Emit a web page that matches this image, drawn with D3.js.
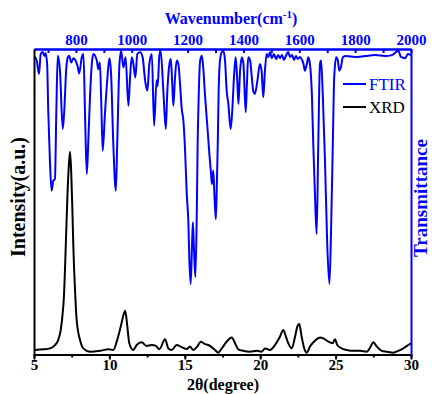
<!DOCTYPE html>
<html><head><meta charset="utf-8">
<script src="https://cdn.jsdelivr.net/npm/d3@7"></script>
<style>
body{margin:0;background:#fff;}
svg{display:block;}
text{font-family:"Liberation Serif","Times New Roman",serif;}
</style></head>
<body><svg id="c" width="432" height="394"></svg>
<script>
// FTIR: wavenumber (cm-1) and transmittance (relative %)
const ftirWavenumber = [650,654,660,668,674,681,687,691,697,701,707,713,719,725,730,735,743,753,759,765,771,776,783,791,800,807,812,821,827,833,839,845,851,857,862,875,880,886,891,896,904,913,920,926,934,943,948,956,962,970,978,988,994,1000,1006,1013,1020,1030,1039,1048,1056,1063,1072,1080,1089,1093,1099,1104,1113,1122,1127,1135,1140,1145,1149,1155,1161,1167,1173,1179,1185,1191,1197,1203,1206,1211,1216,1219,1223,1228,1233,1236,1240,1245,1251,1256,1262,1271,1278,1284,1287,1292,1296,1301,1304,1308,1311,1316,1322,1328,1334,1340,1346,1354,1360,1366,1372,1378,1382,1388,1394,1400,1408,1412,1417,1424,1430,1435,1441,1450,1459,1465,1471,1477,1483,1489,1495,1502,1509,1517,1524,1531,1538,1545,1552,1560,1567,1574,1581,1588,1595,1603,1610,1615,1620,1627,1632,1638,1645,1650,1656,1662,1668,1674,1678,1684,1692,1700,1708,1714,1720,1725,1732,1738,1743,1749,1756,1767,1800,1835,1871,1907,1932,1955,1964,1979,1989,2000];
const ftirTransmittance = [97.4,97.3,96.1,91.8,98.4,99.0,97.7,98.7,95.1,79.8,63.4,53.6,56.9,57.4,79.8,97.8,92.9,73.8,80.9,92.9,97.3,97.8,95.6,97.0,96.0,94.0,92.0,97.3,98.4,77.6,59.1,71.1,85.3,95.1,98.4,96.2,93.4,95.6,82.0,66.7,78.7,90.7,97.0,91.8,68.9,53.6,68.9,95.1,99.4,94.0,97.3,81.4,90.7,97.3,95.1,90.7,98.4,98.9,97.3,89.6,86.3,95.1,98.4,74.9,89.8,87.9,98.0,99.0,86.6,73.8,85.3,95.1,96.7,88.5,81.4,90.7,96.2,95.1,88.5,80.4,76.5,66.7,52.5,42.7,31.9,23.1,36.2,43.3,34.0,25.3,47.1,68.9,85.3,96.2,97.8,94.0,85.3,74.4,65.6,59.1,55.8,60.2,52.5,44.3,52.5,68.9,85.3,96.2,98.9,99.4,96.2,86.3,82.0,73.8,79.8,90.7,97.3,89.6,82.0,92.9,97.3,95.1,79.3,87.6,97.3,96.2,90.7,86.3,85.3,89.6,95.1,92.9,84.2,92.9,98.4,97.3,98.9,97.0,98.4,96.7,98.0,97.0,98.0,96.4,97.7,99.0,97.4,98.0,96.4,97.7,96.7,97.4,96.4,95.1,92.9,95.1,97.3,95.1,85.3,68.9,52.5,39.4,68.9,95.1,96.2,85.3,63.4,36.2,23.1,41.7,68.9,90.7,97.3,96.2,92.9,94.0,97.3,97.7,97.4,97.7,98.0,97.7,98.0,99.4,97.4,97.0,98.4,98.0];

// XRD: 2-theta (degree) and intensity (a.u.)
const xrdTwoTheta = [5.07,5.62,6.06,6.39,6.61,6.77,6.88,6.99,7.12,7.23,7.32,7.39,7.47,7.54,7.61,7.72,7.83,8.05,8.27,8.71,9.38,9.93,10.26,10.52,10.75,10.97,11.05,11.19,11.32,11.58,11.81,12.14,12.47,12.80,13.09,13.31,13.69,13.91,14.13,14.46,14.79,15.13,15.34,15.56,15.79,16.07,16.34,16.56,16.78,17.00,17.22,17.45,17.78,18.11,18.33,18.55,18.88,19.32,19.77,20.10,20.32,20.65,20.98,21.31,21.53,21.71,21.86,22.09,22.31,22.46,22.59,22.75,22.92,23.08,23.30,23.63,23.97,24.18,24.52,24.81,24.96,25.11,25.40,25.74,26.17,26.62,27.06,27.33,27.50,27.73,28.06,28.39,28.83,29.16,29.49,29.82,30.00];
const xrdIntensity = [1.5,1.7,2.0,3.1,4.8,8.0,12.4,19.5,37.5,53.8,62.6,66.4,59.3,48.4,35.3,21.1,11.3,4.8,2.0,0.9,1.2,1.7,1.5,4.8,9.1,13.5,14.3,9.1,3.7,1.5,3.1,4.0,2.8,3.1,2.8,1.7,5.0,2.0,1.5,3.1,2.4,1.8,2.6,1.5,2.4,4.2,3.4,3.1,2.4,1.5,0.6,2.0,4.2,5.6,3.7,1.7,1.2,0.9,1.2,0.9,2.0,1.5,3.1,5.8,8.0,5.8,3.7,2.0,5.8,9.1,10.0,5.8,2.0,0.6,2.6,4.5,5.6,5.3,4.2,3.7,5.0,3.1,2.0,1.5,1.2,1.2,0.9,2.6,4.0,2.6,1.2,0.9,0.6,1.2,2.0,3.1,3.7];

const bottomTicks = [5,10,15,20,25,30];
const bottomMinor = [5,7.5,10,12.5,15,17.5,20,22.5,25,27.5,30];
const topTicks = [800,1000,1200,1400,1600,1800,2000];
const topMinor = [700,800,900,1000,1100,1200,1300,1400,1500,1600,1700,1800,1900,2000];
const legendLabels = ["FTIR","XRD"];
const legendColors = ["#0000ff","#000000"];

const L=34, R=411, T=49, B=354.5;
const BLUE="#0000ff";
const SERIF="'Liberation Serif','Times New Roman',serif";
const svg=d3.select("#c");
const x=d3.scaleLinear().domain([5,30]).range([L,R]);
const xTop=d3.scaleLinear().domain([650,2000]).range([L,R]);
const yL=d3.scaleLinear().domain([0,100]).range([B,T]);
const yR=d3.scaleLinear().domain([0,100]).range([B,T]);

// FTIR line
const ftir=ftirWavenumber.map((w,i)=>[w,ftirTransmittance[i]]);
svg.append("path").datum(ftir)
  .attr("fill","none").attr("stroke",BLUE).attr("stroke-width",2).attr("stroke-linejoin","round")
  .attr("d",d3.line().x(d=>xTop(d[0])).y(d=>yR(d[1])).curve(d3.curveMonotoneX));
// XRD line
const xrd=xrdTwoTheta.map((t,i)=>[t,xrdIntensity[i]]);
svg.append("path").datum(xrd)
  .attr("fill","none").attr("stroke","#000").attr("stroke-width",2).attr("stroke-linejoin","round")
  .attr("d",d3.line().x(d=>x(d[0])).y(d=>yL(d[1])).curve(d3.curveMonotoneX));

// bottom axis
const gb=svg.append("g").attr("transform",`translate(0,${B})`);
gb.call(d3.axisBottom(x).tickValues(bottomMinor).tickSizeInner(3).tickSizeOuter(0).tickFormat(""));
const gb2=svg.append("g").attr("transform",`translate(0,${B})`);
gb2.call(d3.axisBottom(x).tickValues(bottomTicks).tickSizeInner(5).tickSizeOuter(0).tickPadding(0).tickFormat(d3.format("d")));
[gb,gb2].forEach(g=>{g.selectAll("path,line").attr("stroke","#000").attr("stroke-width",2);});
gb2.selectAll("text").attr("font-size",15).attr("font-weight","bold").attr("fill","#000").attr("font-family",SERIF);

// top axis
const gt=svg.append("g").attr("transform",`translate(0,${T})`);
gt.call(d3.axisTop(xTop).tickValues(topMinor).tickSizeInner(-4).tickSizeOuter(0).tickFormat(""));
const gt2=svg.append("g").attr("transform",`translate(0,${T})`);
gt2.call(d3.axisTop(xTop).tickValues(topTicks).tickSizeInner(0).tickSizeOuter(0).tickPadding(4).tickFormat(d3.format("d")));
[gt,gt2].forEach(g=>{g.selectAll("path,line").attr("stroke",BLUE).attr("stroke-width",2);});
gt2.selectAll("text").attr("font-size",15).attr("font-weight","bold").attr("fill",BLUE).attr("font-family",SERIF);

// left & right axes (lines only)
const gl=svg.append("g").attr("transform",`translate(${L},0)`);
gl.call(d3.axisLeft(yL).tickValues([]).tickSizeOuter(0));
gl.select("path").attr("stroke","#000").attr("stroke-width",2);
const gr=svg.append("g").attr("transform",`translate(${R},0)`);
gr.call(d3.axisRight(yR).tickValues([]).tickSizeOuter(0));
gr.select("path").attr("stroke",BLUE).attr("stroke-width",2);

// titles
svg.append("text").attr("x",223).attr("y",389.5).attr("text-anchor","middle").attr("font-family",SERIF)
  .attr("font-size",16).attr("font-weight","bold").attr("fill","#000").text("2θ(degree)");
const tt=svg.append("text").attr("x",231).attr("y",24).attr("text-anchor","middle").attr("font-family",SERIF)
  .attr("font-size",16).attr("font-weight","bold").attr("fill",BLUE);
tt.append("tspan").text("Wavenumber(cm");
tt.append("tspan").attr("dy",-6).attr("font-size",11).text("-1");
tt.append("tspan").attr("dy",6).text(")");
svg.append("text").attr("transform","translate(25,197) rotate(-90)").attr("text-anchor","middle").attr("font-family",SERIF)
  .attr("font-size",20).attr("font-weight","bold").attr("fill","#000").text("Intensity(a.u.)");
svg.append("text").attr("transform","translate(427,198) rotate(-90)").attr("text-anchor","middle").attr("font-family",SERIF)
  .attr("font-size",19).attr("font-weight","bold").attr("fill",BLUE).text("Transmittance");

// legend
const lg=svg.append("g");
legendLabels.forEach((lab,i)=>{
  const yy=84+i*23;
  lg.append("line").attr("x1",343).attr("x2",366).attr("y1",yy).attr("y2",yy)
    .attr("stroke",legendColors[i]).attr("stroke-width",2);
  lg.append("text").attr("x",369).attr("y",yy+5.5).attr("font-size",17).attr("font-family",SERIF)
    .attr("fill",legendColors[i]).text(lab);
});
</script></body></html>
